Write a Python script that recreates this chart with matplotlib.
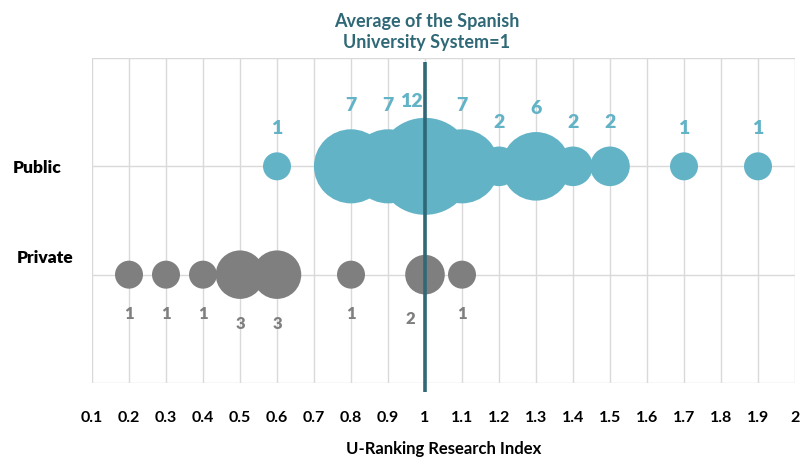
import matplotlib
matplotlib.use("Agg")
import matplotlib.pyplot as plt
import numpy as np

plt.rcParams['font.family'] = ['Lato', 'DejaVu Sans']

public_x = [0.6, 0.8, 0.9, 1.0, 1.1, 1.2, 1.3, 1.4, 1.5, 1.7, 1.9]
public_n = [1, 7, 7, 12, 7, 2, 6, 2, 2, 1, 1]
private_x = [0.2, 0.3, 0.4, 0.5, 0.6, 0.8, 1.0, 1.1]
private_n = [1, 1, 1, 3, 3, 1, 2, 1]
categories = ["Private", "Public"]
cat_y = [1, 2]
xticks = [round(0.1 * i, 1) for i in range(1, 21)]
xtick_labels = ["0.1", "0.2", "0.3", "0.4", "0.5", "0.6", "0.7", "0.8", "0.9", "1",
                "1.1", "1.2", "1.3", "1.4", "1.5", "1.6", "1.7", "1.8", "1.9", "2"]

BLUE = "#63B3C7"
GREY = "#7F7F7F"
TEAL = "#2F6876"

fig = plt.figure(figsize=(8.03, 4.57), dpi=100)
ax = fig.add_axes([92/803, 1-383/457, (795-92)/803, (383-58)/457])
ax.set_xlim(0.1, 2.0)
ax.set_ylim(0, 3)

px2pt = 72/100
d1 = 28 * px2pt  # diameter in points for n=1

def sizes(ns):
    return [(d1**2) * n for n in ns]

ax.scatter(public_x, [2]*len(public_x), s=sizes(public_n), color=BLUE, linewidths=0, zorder=3)
ax.scatter(private_x, [1]*len(private_x), s=sizes(private_n), color=GREY, linewidths=0, zorder=3)

for x, n in zip(public_x, public_n):
    r = 14 * np.sqrt(n)
    off = (r + 24) * px2pt
    dx = 0
    if abs(x - 1.0) < 1e-9:
        off -= 8 * px2pt
        dx = -14 * px2pt
    ax.annotate(str(n), (x, 2), xytext=(dx, off), textcoords='offset points',
                ha='center', va='center', color=BLUE, fontsize=14, fontweight='heavy', zorder=5)
for x, n in zip(private_x, private_n):
    r = 14 * np.sqrt(n)
    off = (r + 25) * px2pt
    dx = -15 * px2pt if abs(x - 1.0) < 1e-9 else 0
    ax.annotate(str(n), (x, 1), xytext=(dx, -off), textcoords='offset points',
                ha='center', va='center', color=GREY, fontsize=12, fontweight='heavy', zorder=5)

# average line
ax.plot([1.0, 1.0], [3 - 4/107.5, -9/107.5], color=TEAL, lw=2.6, zorder=4, clip_on=False,
        solid_capstyle='butt')

ax.set_xticks(xticks)
ax.set_xticklabels(xtick_labels, fontsize=11.5, fontweight='bold')
ax.set_yticks([0, 1, 2, 3])
ax.set_yticklabels([])
ax.tick_params(axis='both', length=0)
ax.tick_params(axis='x', pad=20)
ax.grid(True, color="#D9D9D9", lw=1)
ax.set_axisbelow(True)
for s in ax.spines.values():
    s.set_visible(False)

label_pos = {"Public": (37, 168), "Private": (45, 258)}
for lab in categories:
    px, py = label_pos[lab]
    fig.text(px/803, 1-py/457, lab, ha='center', va='center', fontsize=12.5,
             fontweight='heavy', color='black')

ax.set_xlabel("U-Ranking Research Index", fontsize=12, fontweight='bold', labelpad=12)

fig.text(427/803, 1-32/457, "Average of the Spanish\nUniversity System=1", ha='center', va='center',
         fontsize=13, fontweight='bold', color=TEAL, linespacing=1.3)

fig.savefig("out.png", dpi=100)
